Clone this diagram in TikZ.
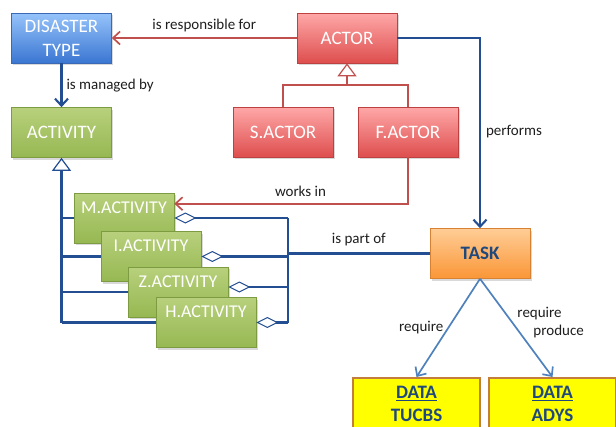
\documentclass[tikz,border=0pt]{standalone}
\usepackage{fontspec}
\setmainfont{Carlito}
\usetikzlibrary{arrows.meta,shadows,calc}

\definecolor{bluetop}{RGB}{150,195,250}
\definecolor{bluebot}{RGB}{58,118,210}
\definecolor{blueedge}{RGB}{60,105,180}
\definecolor{greentop}{RGB}{184,208,124}
\definecolor{greenbot}{RGB}{150,184,82}
\definecolor{greenedge}{RGB}{125,155,65}
\definecolor{redtop}{RGB}{255,168,168}
\definecolor{redbot}{RGB}{222,78,78}
\definecolor{rededge}{RGB}{190,65,65}
\definecolor{orangetop}{RGB}{255,205,150}
\definecolor{orangebot}{RGB}{250,150,55}
\definecolor{orangeedge}{RGB}{215,130,50}
\definecolor{datafill}{RGB}{255,255,0}
\definecolor{dataedge}{RGB}{195,125,60}
\definecolor{navy}{RGB}{31,73,125}
\definecolor{linkblue}{RGB}{35,78,145}
\definecolor{lightlink}{RGB}{79,129,189}
\definecolor{linkred}{RGB}{192,80,77}
\definecolor{labelgray}{RGB}{30,30,30}

\begin{document}
\begin{tikzpicture}[x=1pt,y=-1pt,
  box/.style={rectangle, draw, line width=0.6pt, minimum width=100pt,
    minimum height=50pt, inner sep=0pt, align=center, text=white,
    font=\fontsize{19}{24}\selectfont,
    drop shadow={shadow xshift=1.5pt, shadow yshift=-2pt, opacity=0.3}},
  bluebox/.style={box, draw=blueedge, top color=bluetop, bottom color=bluebot},
  greenbox/.style={box, draw=greenedge, top color=greentop, bottom color=greenbot},
  subact/.style={greenbox, font=\fontsize{18}{22}\selectfont,
    text height=12pt, text depth=22pt},
  redbox/.style={box, draw=rededge, top color=redtop, bottom color=redbot},
  taskbox/.style={box, draw=orangeedge, top color=orangetop, bottom color=orangebot,
    text=navy, font=\fontsize{19}{24}\selectfont\bfseries},
  databox/.style={rectangle, draw=dataedge, line width=1.5pt, fill=datafill,
    minimum width=127pt, minimum height=52pt, inner sep=0pt, align=center,
    text=navy, font=\fontsize{19}{23}\selectfont\bfseries, anchor=north},
  lbl/.style={text=labelgray, font=\fontsize{15}{18}\selectfont, inner sep=1pt},
  blueline/.style={draw=linkblue, line width=2.1pt},
  partline/.style={draw=linkblue, line width=3.8pt},
  redline/.style={draw=linkred, line width=1.7pt},
  taskline/.style={draw=lightlink, line width=1.7pt},
  barb/.style={-{Straight Barb[length=7pt,width=13pt]}},
  inherit/.style={-{Triangle[length=13pt,width=19pt,fill=white,line width=1.2pt]}},
  partof/.style={{Diamond[length=22pt,width=11pt,fill=white,line width=1pt]}-}
]
\useasboundingbox (0,0) rectangle (616,426);
\clip (0,0) rectangle (616,426);

% classes
\node[bluebox]  (dis)    at (61.5,38)   {DISASTER\\TYPE};
\node[greenbox] (act)    at (61.5,132.5) {ACTIVITY};
\node[redbox]   (actor)  at (347,38)    {ACTOR};
\node[redbox]   (sactor) at (283,132)   {S.ACTOR};
\node[redbox]   (factor) at (408,132)   {F.ACTOR};
\node[taskbox]  (task)   at (480,253.5) {TASK};

% stacked activity specialisations
\node[subact] (m) at (124,218)   {M.ACTIVITY};
\node[subact] (i) at (151,256.5) {I.ACTIVITY};
\node[subact] (z) at (178,292)   {Z.ACTIVITY};
\node[subact] (h) at (206,322.5) {H.ACTIVITY};

% data objects
\node[databox] (tucbs) at (416.5,377) {\underline{DATA}\\TUCBS};
\node[databox] (adys)  at (552.5,377) {\underline{DATA}\\ADYS};

% helper points
\coordinate (ajoin) at ($(actor.south)+(0,22)$);
\coordinate (agg)   at (288,254);

% actor relations
\draw[redline,barb] (actor.west) -- (dis.east)
  node[lbl, midway, above=4pt] {is responsible for};
\draw[redline] (sactor.north) |- (ajoin) -| (factor.north);
\draw[redline,inherit] (ajoin) -- (actor.south);
\draw[redline,barb] (factor.south) |- ($(m.north east)+(0,11)$)
  node[lbl, pos=0.73, above=5pt] {works in};
\draw[blueline,barb] (actor.east) -| (task.north)
  node[lbl, pos=0.745, right=4pt] {performs};

% disaster type to activity
\draw[blueline,barb] (dis.south) -- (act.north)
  node[lbl, midway, right=3pt] {is managed by};

% generalisation of activities
\draw[blueline,inherit] (h.west -| act.south) -- (act.south);
\draw[blueline] (m.west) -- (m.west -| act.south);
\draw[blueline] (i.west) -- (i.west -| act.south);
\draw[blueline] (z.west) -- (z.west -| act.south);
\draw[blueline] (h.west) -- (h.west -| act.south);

% aggregation of activities into the task
\draw[blueline,partof] (m.east) -- (m.east -| agg);
\draw[blueline,partof] (i.east) -- (i.east -| agg);
\draw[blueline,partof] ($(z.east)+(0,-5)$) -- ($(z.east -| agg)+(0,-5)$);
\draw[blueline,partof] (h.east) -- (h.east -| agg);
\draw[blueline] (m.east -| agg) -- (h.east -| agg);
\draw[partline] (task.west) -- (task.west -| agg)
  node[lbl, midway, above=5pt] {is part of};

% task to data
\draw[taskline,barb] (task.south) -- (tucbs.north)
  node[lbl, midway, left=3pt] {require};
\draw[taskline,barb] (task.south) -- (adys.north)
  node[lbl, pos=0.45, right=3pt, align=left] {require\\\hspace*{16pt}produce};
\end{tikzpicture}
\end{document}
